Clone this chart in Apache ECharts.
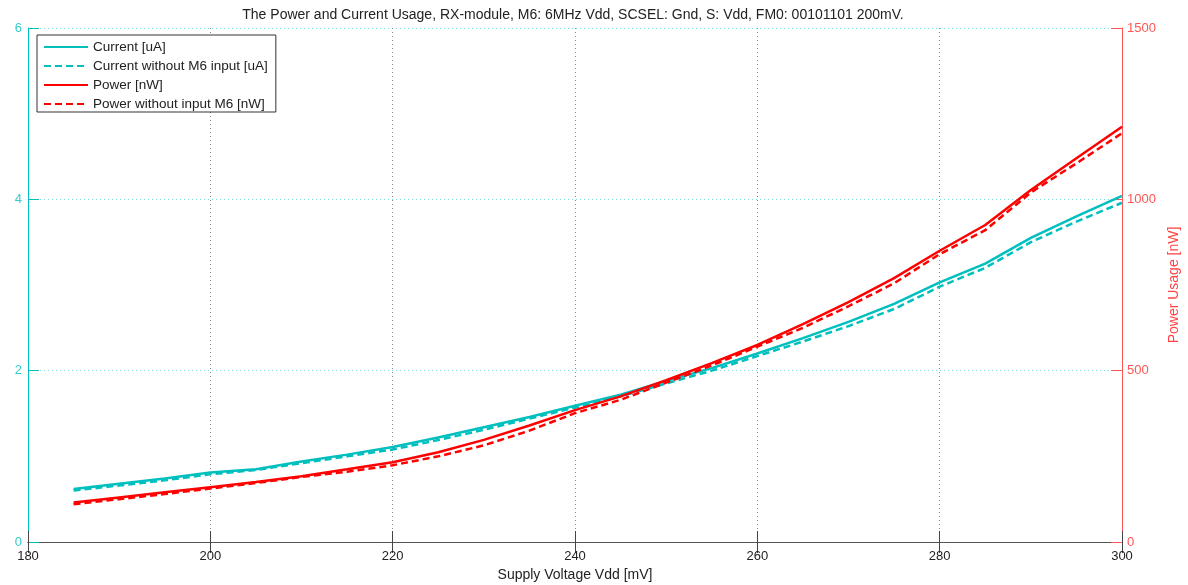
<!DOCTYPE html>
<html>
<head>
<meta charset="utf-8">
<title>Power and Current Usage</title>
<script src="https://cdn.jsdelivr.net/npm/echarts@6/dist/echarts.min.js"></script>
<style>
  html, body { margin: 0; padding: 0; background: #fff; }
  #chart { width: 1188px; height: 585px; }
</style>
</head>
<body>
<div id="chart"></div>
<script>
// supply voltage [mV]
const vdd = [185, 190, 195, 200, 205, 210, 215, 220, 225, 230, 235, 240,
             245, 250, 255, 260, 265, 270, 275, 280, 285, 290, 295, 300];

// current [uA]
const current = [0.62, 0.68, 0.74, 0.81, 0.85, 0.94, 1.02, 1.11, 1.22, 1.34, 1.46, 1.59,
                 1.72, 1.88, 2.03, 2.20, 2.38, 2.57, 2.78, 3.03, 3.25, 3.55, 3.80, 4.04];
const currentNoM6 = [0.60, 0.66, 0.72, 0.79, 0.84, 0.92, 1.00, 1.08, 1.19, 1.31, 1.44, 1.57,
                     1.70, 1.85, 2.00, 2.17, 2.34, 2.52, 2.72, 2.98, 3.20, 3.50, 3.74, 3.96];

// power [nW]
const power = [115, 130, 145, 160, 175, 192, 212, 233, 262, 298, 340, 385,
               425, 472, 522, 575, 636, 700, 770, 850, 925, 1027, 1120, 1212];
const powerNoM6 = [110, 125, 140, 156, 172, 190, 205, 224, 250, 282, 325, 376,
                   415, 465, 515, 570, 625, 688, 755, 840, 910, 1020, 1105, 1193];

const titleText = "The Power and Current Usage, RX-module, M6: 6MHz Vdd, SCSEL: Gnd, S: Vdd, FM0: 00101101 200mV.";

const CYAN = "#00bfbf";
const RED = "#ff0000";
const FONT = "Liberation Sans, Arial, sans-serif";

function pairs(ys) {
  return vdd.map((x, i) => [x, ys[i]]);
}

function lineSeries(name, ys, color, dashed, yIdx) {
  return {
    name: name,
    type: "line",
    yAxisIndex: yIdx,
    data: pairs(ys),
    showSymbol: false,
    symbol: "none",
    animation: false,
    lineStyle: { color: color, width: 2.5, type: dashed ? [7, 4] : "solid" },
    itemStyle: { color: color },
  };
}

let myChart = echarts.init(document.getElementById("chart"));
let option = {
  animation: false,
  textStyle: { fontFamily: FONT },
  title: {
    text: titleText,
    left: 568,
    textAlign: "center",
    top: 3,
    textStyle: { fontSize: 14, fontWeight: "normal", color: "#222", fontFamily: FONT },
  },
  grid: { left: 28, right: 66, top: 28, bottom: 43, outerBoundsMode: "none" },
  legend: {
    orient: "vertical",
    left: 37,
    top: 35,
    padding: [5, 8, 1, 6],
    itemWidth: 44,
    itemHeight: 14,
    itemGap: 5,
    backgroundColor: "#fff",
    borderColor: "#333",
    borderWidth: 1,
    borderRadius: 0,
    itemStyle: { opacity: 0 },
    textStyle: { fontSize: 13.5, color: "#222", fontFamily: FONT },
    data: [
      "Current [uA]",
      "Current without M6 input [uA]",
      "Power [nW]",
      "Power without input M6 [nW]",
    ],
  },
  xAxis: [
    {
      type: "value",
      min: 180,
      max: 300,
      interval: 20,
      name: "Supply Voltage Vdd [mV]",
      nameLocation: "middle",
      nameGap: 25,
      nameTextStyle: { fontSize: 14, color: "#222" },
      axisLine: { show: true, lineStyle: { color: "#555", width: 1 } },
      axisTick: { show: true, inside: true, length: 11, lineStyle: { color: "#444" } },
      axisLabel: { fontSize: 13, color: "#222", margin: 8 },
      splitLine: { show: true, lineStyle: { color: "#888", type: [1, 3], width: 1 } },
    },
    {
      type: "value",
      position: "top",
      min: 180,
      max: 300,
      interval: 20,
      axisLine: { show: true, lineStyle: { color: "#555", width: 1 } },
      axisTick: { show: true, inside: true, length: 11, lineStyle: { color: "#444" } },
      axisLabel: { show: false },
      splitLine: { show: false },
    },
  ],
  yAxis: [
    {
      type: "value",
      min: 0,
      max: 6,
      interval: 2,
      position: "left",
      axisLine: { show: true, lineStyle: { color: CYAN, width: 1 } },
      axisTick: { show: true, inside: true, length: 11, lineStyle: { color: CYAN } },
      axisLabel: { fontSize: 13, color: "#33cccc", margin: 6 },
      splitLine: { show: true, lineStyle: { color: "#80dfdf", type: [1, 3], width: 1 } },
    },
    {
      type: "value",
      min: 0,
      max: 1500,
      interval: 500,
      position: "right",
      name: "Power Usage [nW]",
      nameLocation: "middle",
      nameRotate: 90,
      nameGap: 39,
      nameTextStyle: { fontSize: 14, color: "#ff4444" },
      axisLine: { show: true, lineStyle: { color: "#ff5555", width: 1 } },
      axisTick: { show: true, inside: true, length: 11, lineStyle: { color: "#ff5555" } },
      axisLabel: { fontSize: 13, color: "#ff5555", margin: 5, formatter: (v) => String(v) },
      splitLine: { show: false },
    },
  ],
  series: [
    lineSeries("Current [uA]", current, CYAN, false, 0),
    lineSeries("Current without M6 input [uA]", currentNoM6, CYAN, true, 0),
    lineSeries("Power [nW]", power, RED, false, 1),
    lineSeries("Power without input M6 [nW]", powerNoM6, RED, true, 1),
  ],
};
myChart.setOption(option);
</script>
</body>
</html>
